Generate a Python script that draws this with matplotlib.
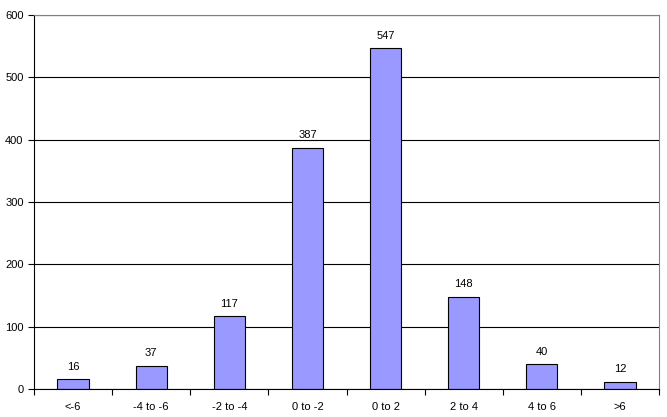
import matplotlib
matplotlib.use("Agg")
import matplotlib.pyplot as plt
import numpy as np

plt.rcParams['font.family'] = ['Liberation Sans', 'DejaVu Sans']

categories = ['<-6', '-4 to -6', '-2 to -4', '0 to -2', '0 to 2', '2 to 4', '4 to 6', '>6']
counts = [16, 37, 117, 387, 547, 148, 40, 12]

fig = plt.figure(figsize=(6.67, 4.17), dpi=100)
ax = fig.add_axes([34/667, 1 - 389/417, (659 - 34)/667, (389 - 15)/417])

x = np.arange(len(categories))
ax.bar(x, counts, width=0.4, color='#9999FF', edgecolor='black', linewidth=0.8, zorder=3)
for xi, v in zip(x, counts):
    ax.text(xi, v + 12, str(v), ha='center', va='bottom', fontsize=8)

ax.set_xlim(-0.5, len(categories) - 0.5)
ax.set_ylim(0, 600)
ax.set_yticks(range(0, 601, 100))
ax.yaxis.grid(True, color='black', linewidth=0.8, zorder=0)

ax.set_xticks(x)
ax.set_xticklabels(categories, fontsize=8)
ax.tick_params(axis='x', length=0, pad=9)
ax.set_xticks(np.arange(-0.5, len(categories), 1), minor=True)
ax.tick_params(axis='x', which='minor', length=4, direction='out', width=0.8)
ax.tick_params(axis='y', length=4, direction='out', width=0.8, labelsize=8)

for s in ['top', 'right']:
    ax.spines[s].set_color('#808080')
    ax.spines[s].set_zorder(5)
for s in ['left', 'bottom']:
    ax.spines[s].set_color('black')
    ax.spines[s].set_zorder(5)

fig.savefig('out.png', dpi=100)
